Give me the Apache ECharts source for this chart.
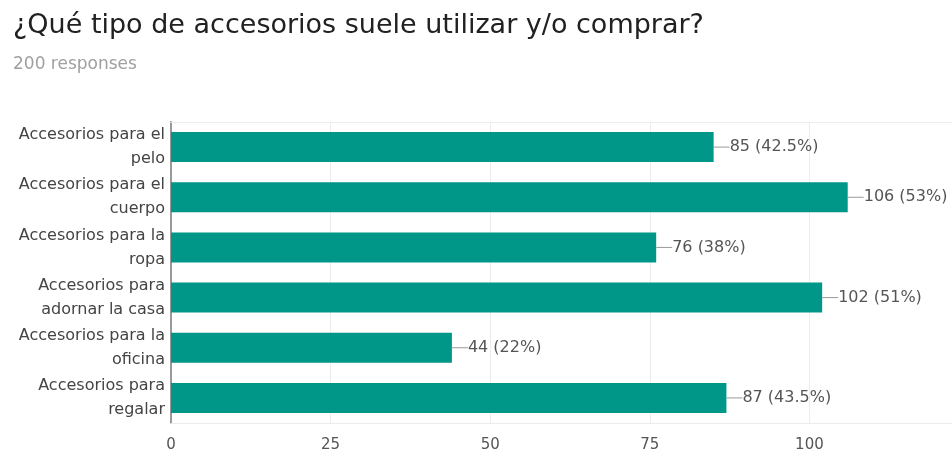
<!DOCTYPE html>
<html>
<head>
<meta charset="utf-8">
<script src="https://cdn.jsdelivr.net/npm/echarts@6/dist/echarts.min.js"></script>
<style>
  html, body { margin: 0; padding: 0; background: #fff; overflow: hidden; }
  /* un poco mas ancho que la ventana: la linea de 125 queda fuera, como en el original */
  #chart { width: 972px; height: 456px; }
</style>
</head>
<body>
<div id="chart"></div>
<script>
// categorias (de arriba a abajo) y respuestas
const categories = [
  'Accesorios para el\npelo',
  'Accesorios para el\ncuerpo',
  'Accesorios para la\nropa',
  'Accesorios para\nadornar la casa',
  'Accesorios para la\noficina',
  'Accesorios para\nregalar'
]
const counts = [85, 106, 76, 102, 44, 87]
const totalResponses = 200
const tickValues = [0, 25, 50, 75, 100]

const myChart = echarts.init(document.getElementById('chart'))

myChart.setOption({
  animation: false,
  title: {
    text: '¿Qué tipo de accesorios suele utilizar y/o comprar?',
    subtext: totalResponses + ' responses',
    left: 8,
    top: 7,
    itemGap: 17,
    textStyle: {
      fontFamily: 'DejaVu Sans',
      fontSize: 27,
      fontWeight: 'normal',
      color: '#212121'
    },
    subtextStyle: {
      fontFamily: 'DejaVu Sans',
      fontSize: 17,
      color: '#a0a0a0'
    }
  },
  grid: {
    left: 171,
    right: 1,
    top: 122,
    bottom: 33,
    containLabel: false
  },
  xAxis: [
    {
      type: 'value',
      min: 0,
      max: 125,
      interval: 25,
      axisLine: { show: true, lineStyle: { color: '#ececec' } },
      axisTick: { show: false },
      splitLine: { lineStyle: { color: '#ececec' } },
      axisLabel: {
        fontFamily: 'DejaVu Sans',
        fontSize: 15,
        color: '#555',
        margin: 15,
        formatter: v => (tickValues.includes(v) ? String(v) : '')
      }
    },
    {
      // solo la linea de arriba
      type: 'value',
      position: 'top',
      min: 0,
      max: 125,
      axisLine: { show: true, lineStyle: { color: '#ececec' } },
      axisTick: { show: false },
      axisLabel: { show: false },
      splitLine: { show: false }
    }
  ],
  yAxis: {
    type: 'category',
    inverse: true,
    data: categories,
    axisLine: { show: true, lineStyle: { color: '#999', width: 2 } },
    axisTick: { show: false },
    axisLabel: {
      fontFamily: 'DejaVu Sans',
      fontSize: 16,
      lineHeight: 24,
      color: '#444',
      margin: 6,
      align: 'right'
    }
  },
  series: [
    {
      type: 'bar',
      data: counts,
      barWidth: 30,
      itemStyle: { color: '#009688' },
      label: {
        show: true,
        position: 'right',
        distance: 0,
        formatter: p => '{l|}' + p.value + ' (' + (p.value / totalResponses * 100) + '%)',
        fontFamily: 'DejaVu Sans',
        fontSize: 16,
        color: '#555',
        rich: {
          l: { width: 16, height: 1, backgroundColor: '#999', padding: 0 }
        }
      }
    }
  ]
})
</script>
</body>
</html>
